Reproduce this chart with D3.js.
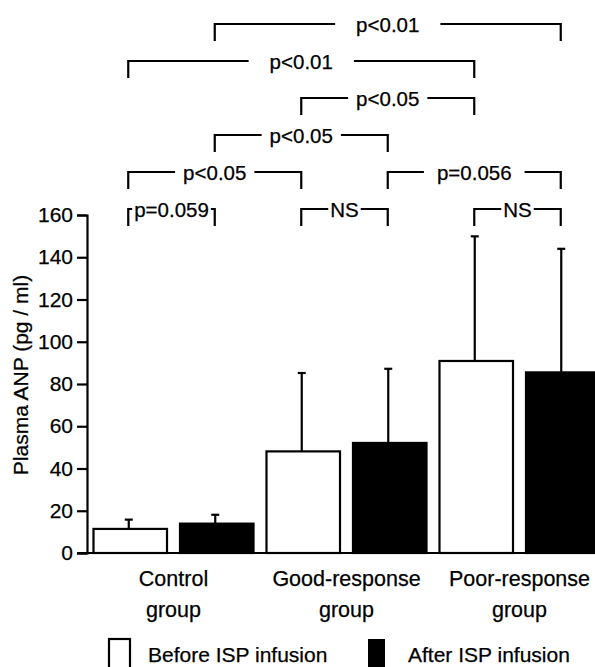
<!DOCTYPE html>
<html>
<head>
<meta charset="utf-8">
<script src="https://cdn.jsdelivr.net/npm/d3@7"></script>
<style>
  html, body { margin: 0; padding: 0; background: #fff; }
  svg { display: block; font-family: "Liberation Sans", Arial, Helvetica, sans-serif; }
  text { stroke: #000; stroke-width: 0.25px; fill: #000; }
</style>
</head>
<body>
<svg id="chart" width="595" height="667"></svg>
<script>
// ---- data ----
const groups = ["Control group", "Good-response group", "Poor-response group"];
const series = ["before", "after"];
const seriesLabels = ["Before ISP infusion", "After ISP infusion"];
const beforeMean = [11.4, 48.1, 90.9];
const beforeSD   = [4.4, 37.1, 59.0];
const afterMean  = [13.9, 52.1, 85.5];
const afterSD    = [4.2, 35.1, 58.5];
const yTicks = [0, 20, 40, 60, 80, 100, 120, 140, 160];
const yTitle = "Plasma ANP (pg / ml)";
// comparisons: [groupIndex, series] pairs, label, stacking level
const compA     = [[0,"before"],[1,"before"],[2,"before"],[0,"before"],[1,"after"],[0,"after"],[1,"before"],[0,"before"],[0,"after"]];
const compB     = [[0,"after"],[1,"after"],[2,"after"],[1,"before"],[2,"after"],[1,"after"],[2,"before"],[2,"before"],[2,"after"]];
const compLabel = ["p=0.059","NS","NS","p<0.05","p=0.056","p<0.05","p<0.05","p<0.01","p<0.01"];
const compLevel = [0,0,0,1,1,2,3,4,5];

const means = {before: beforeMean, after: afterMean};
const sds = {before: beforeSD, after: afterSD};

const svg = d3.select("#chart");
const font = '"Liberation Sans", Arial, Helvetica, sans-serif';

const x0 = d3.scaleBand().domain(groups.map((g,i)=>i)).range([87, 606]).paddingInner(0).paddingOuter(0);
const x1 = d3.scaleBand().domain(series).range([0, x0.bandwidth()]).paddingInner(0.15).paddingOuter(0.075);
const y = d3.scaleLinear().domain([0, 160]).range([553, 215]);

const cx = (g, s) => x0(g) + x1(s) + x1.bandwidth() / 2 - 1.5;

// bars
const barData = [];
groups.forEach((g, i) => series.forEach(s => barData.push({g: i, s, v: means[s][i], sd: sds[s][i]})));

svg.append("g").selectAll("rect").data(barData).join("rect")
  .attr("x", d => x0(d.g) + x1(d.s))
  .attr("y", d => y(d.v))
  .attr("width", x1.bandwidth())
  .attr("height", d => y(0) - y(d.v))
  .attr("fill", d => d.s === "before" ? "#fff" : "#000")
  .attr("stroke", "#000")
  .attr("stroke-width", 2.2);

// error bars
const eb = svg.append("g").attr("stroke", "#000").attr("stroke-width", 2.2);
eb.selectAll("line.v").data(barData).join("line").attr("class", "v")
  .attr("x1", d => cx(d.g, d.s)).attr("x2", d => cx(d.g, d.s))
  .attr("y1", d => y(d.v)).attr("y2", d => y(d.v + d.sd));
eb.selectAll("line.c").data(barData).join("line").attr("class", "c")
  .attr("x1", d => cx(d.g, d.s) - 4).attr("x2", d => cx(d.g, d.s) + 4)
  .attr("y1", d => y(d.v + d.sd)).attr("y2", d => y(d.v + d.sd));

// x axis line
const xAxis = svg.append("g").attr("transform", `translate(0,${y(0)})`)
  .call(d3.axisBottom(x0).tickSize(0).tickSizeOuter(0).tickFormat(""));
xAxis.select(".domain").attr("stroke-width", 2.2).attr("d", `M77,0H606`);

// y axis
const yAxis = svg.append("g").attr("transform", "translate(87,0)")
  .call(d3.axisLeft(y).tickValues(yTicks).tickSize(10).tickSizeOuter(10).tickPadding(4));
yAxis.selectAll("path, line").attr("stroke-width", 2.2);
yAxis.selectAll("text").attr("font-size", 21).attr("font-family", font).attr("fill", "#000");

// y title
svg.append("text")
  .attr("transform", `translate(28,${(y(0) + y(160)) / 2 - 9}) rotate(-90)`)
  .attr("text-anchor", "middle")
  .attr("font-size", 21).attr("font-family", font)
  .text(yTitle);

// group labels
const gl = svg.append("g").attr("font-size", 21.5).attr("font-family", font).attr("text-anchor", "middle");
groups.forEach((g, i) => {
  const parts = g.split(" ");
  const gx = x0(i) + x0.bandwidth() / 2;
  const t = gl.append("text").attr("x", gx).attr("y", 586);
  t.append("tspan").attr("x", gx).text(parts[0]);
  t.append("tspan").attr("x", gx).attr("dy", 31).text(parts[1]);
});

// significance brackets
const gapFor = l => l === "p<0.01" ? 21 : l === "p=0.056" ? 13 : (l === "NS" || l === "p=0.059") ? 2 : 8;
const br = svg.append("g");
compLabel.forEach((lab, k) => {
  const xa = cx(compA[k][0], compA[k][1]) - 0.5;
  const xb = cx(compB[k][0], compB[k][1]) - 0.5;
  const ly = y(160) - 6 - compLevel[k] * 37;
  const mid = (xa + xb) / 2;
  const t = br.append("text").attr("x", mid).attr("y", ly + 8)
    .attr("text-anchor", "middle").attr("font-size", 20.5).attr("font-family", font).text(lab);
  const w = t.node().getComputedTextLength();
  const gap = gapFor(lab);
  const tl = mid - w / 2 - gap, tr = mid + w / 2 + gap;
  br.append("path")
    .attr("d", `M${xa},${ly + 17}V${ly}H${Math.max(xa + 3, tl)}M${Math.min(xb - 3, tr)},${ly}H${xb}V${ly + 17}`)
    .attr("fill", "none").attr("stroke", "#000").attr("stroke-width", 2.2);
});

// legend
const lg = svg.append("g").attr("font-family", font).attr("font-size", 21);
const legX = [108, 368];
const legW = [23, 17];
series.forEach((s, i) => {
  lg.append("rect").attr("x", legX[i] + (s === "before" ? 1 : 0)).attr("y", 639)
    .attr("width", legW[i] - (s === "before" ? 2 : 0)).attr("height", 40)
    .attr("fill", s === "before" ? "#fff" : "#000")
    .attr("stroke", "#000").attr("stroke-width", s === "before" ? 2.2 : 0);
  lg.append("text").attr("x", legX[i] + 40).attr("y", 662).text(seriesLabels[i]);
});
</script>
</body>
</html>
